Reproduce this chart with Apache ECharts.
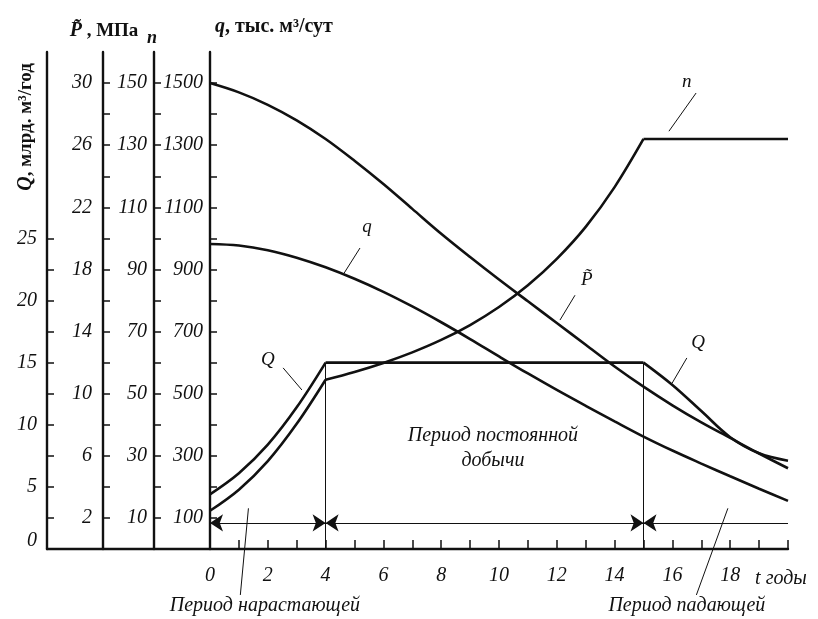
<!DOCTYPE html>
<html>
<head>
<meta charset="utf-8">
<script src="https://cdn.jsdelivr.net/npm/echarts@6/dist/echarts.min.js"></script>
<style>
  html, body { margin: 0; padding: 0; background: #fff; }
  #main { width: 818px; height: 619px; }
</style>
</head>
<body>
<div id="main"></div>
<script>
// годы разработки
const years = [0, 1, 2, 3, 4, 5, 6, 7, 8, 9, 10, 11, 12, 13, 14, 15, 16, 17, 18, 19, 20];
// Q, млрд. м3/год
const gasOutput = [4.4, 6.1, 8.4, 11.4, 15, 15, 15, 15, 15, 15, 15, 15, 15, 15, 15, 15, 13.2, 11.1, 9.0, 7.7, 7.1];
// P, МПа
const pressure = [30.0, 29.4, 28.6, 27.6, 26.4, 25.0, 23.5, 21.9, 20.3, 18.8, 17.35, 15.95, 14.55, 13.15, 11.75, 10.45, 9.25, 8.15, 7.15, 6.15, 5.2];
// n, число скважин
const wells = [12.3, 19.1, 28.3, 40.3, 54.5, 57, 59.9, 63.3, 67.3, 72.1, 77.9, 84.9, 93.4, 103.7, 116.5, 132, 132, 132, 132, 132, 132];
// q, тыс. м3/сут
const wellRate = [982, 977, 962, 938, 907, 870, 828, 781, 730, 676, 620, 565, 512, 461, 411, 362, 317, 275, 234, 194, 155];

// границы периодов (индексы лет)
const growEnd = 4;
const fallStart = 15;
const dimLevel = 84; // уровень размерной линии, по шкале q

// деления шкал
const xTicks = [1, 2, 3, 4, 5, 6, 7, 8, 9, 10, 11, 12, 13, 14, 15, 16, 17, 18, 19, 20];
const xLabels = [0, 2, 4, 6, 8, 10, 12, 14, 16, 18];
const gasTicks = [2.5, 5, 7.5, 10, 12.5, 15, 17.5, 20, 22.5, 25];
const gasLabels = [0, 5, 10, 15, 20, 25];
const presTicks = [2, 4, 6, 8, 10, 12, 14, 16, 18, 20, 22, 24, 26, 28, 30];
const presLabels = [2, 6, 10, 14, 18, 22, 26, 30];
const wellTicks = [10, 20, 30, 40, 50, 60, 70, 80, 90, 100, 110, 120, 130, 140, 150];
const wellLabels = [10, 30, 50, 70, 90, 110, 130, 150];
const rateTicks = [100, 200, 300, 400, 500, 600, 700, 800, 900, 1000, 1100, 1200, 1300, 1400, 1500];
const rateLabels = [100, 300, 500, 700, 900, 1100, 1300, 1500];

const serif = 'Liberation Serif, DejaVu Serif, serif';
const ink = '#111';

const pts = (vals, from, to) => years.slice(from, to + 1).map((t, i) => [t, vals[from + i]]);

const curve = (yIdx, data, smooth, extra) => Object.assign({
  type: 'line',
  xAxisIndex: 0,
  yAxisIndex: yIdx,
  data: data,
  smooth: smooth ? 0.35 : false,
  symbol: 'none',
  lineStyle: { color: ink, width: 2.6 },
  silent: true
}, extra || {});

const yAx = (offset, max, ticks, labels, margin) => ({
  type: 'value',
  position: 'left',
  offset: offset,
  min: 0,
  max: max,
  axisLine: { show: true, onZero: false, lineStyle: { color: ink, width: 2.4 } },
  axisTick: { show: true, inside: true, length: 7, customValues: ticks, lineStyle: { color: ink, width: 1.5 } },
  axisLabel: {
    customValues: labels, margin: margin,
    color: ink, fontFamily: serif, fontStyle: 'italic', fontSize: 20,
    // ноль на шкале Q приподнят над осью времени
    formatter: v => (v === 0 ? '{z|0}' : String(v)),
    rich: { z: { padding: [0, 0, 16, 0], fontFamily: serif, fontStyle: 'italic', fontSize: 20, color: ink } }
  },
  splitLine: { show: false }
});

const thin = { color: ink, width: 1, type: 'solid' };

const option = {
  backgroundColor: '#fff',
  animation: false,
  grid: { left: 47, right: 30, top: 52, bottom: 70 },
  xAxis: {
    type: 'value',
    min: -5.64,
    max: 20,
    axisLine: { onZero: false, lineStyle: { color: ink, width: 2.4 } },
    axisTick: { inside: true, length: 9, customValues: xTicks, lineStyle: { color: ink, width: 1.5 } },
    axisLabel: {
      customValues: xLabels, margin: 17,
      color: ink, fontFamily: serif, fontStyle: 'italic', fontSize: 20,
      formatter: v => String(v)
    },
    splitLine: { show: false }
  },
  yAxis: [
    yAx(0, 40, gasTicks, gasLabels, 10),
    yAx(-56, 32, presTicks, presLabels, 11),
    yAx(-107, 160, wellTicks, wellLabels, 7),
    yAx(-163, 1600, rateTicks, rateLabels, 7)
  ],
  series: [
    // Q
    curve(0, pts(gasOutput, 0, growEnd), true),
    curve(0, pts(gasOutput, growEnd, fallStart), false, {
      markLine: {
        silent: true, symbol: 'none', label: { show: false }, lineStyle: thin,
        data: [
          [{ coord: [years[growEnd], 0] }, { coord: [years[growEnd], gasOutput[growEnd]] }],
          [{ coord: [years[fallStart], 0] }, { coord: [years[fallStart], gasOutput[fallStart]] }]
        ]
      }
    }),
    curve(0, pts(gasOutput, fallStart, years.length - 1), true),
    // P
    curve(1, pts(pressure, 0, years.length - 1), true),
    // n
    curve(2, pts(wells, 0, growEnd), true),
    curve(2, pts(wells, growEnd, fallStart), true),
    curve(2, pts(wells, fallStart, years.length - 1), false),
    // q
    curve(3, pts(wellRate, 0, years.length - 1), true, {
      markLine: {
        silent: true, label: { show: false }, lineStyle: thin,
        symbol: 'arrow', symbolSize: 13,
        data: [
          [{ coord: [years[0], dimLevel] }, { coord: [years[growEnd], dimLevel] }],
          [{ coord: [years[growEnd], dimLevel] }, { coord: [years[fallStart], dimLevel] }],
          [{ coord: [years[fallStart], dimLevel] }, { coord: [years[years.length - 1], dimLevel], symbol: 'none' }]
        ]
      }
    })
  ]
};

const chart = echarts.init(document.getElementById('main'), null, { renderer: 'canvas' });
chart.setOption(option);

// подписи кривых и выноски, координаты в (год, q)
const notes = [
  { text: 'n', at: [16.5, 1503], line: [[16.82, 1468], [15.88, 1345]] },
  { text: 'q', at: [5.43, 1036], line: [[5.19, 969], [4.64, 888]] },
  { text: 'Q', at: [2.0, 608], line: [[2.53, 583], [3.18, 512]] },
  { text: 'P̃', at: [13.04, 866], line: [[12.63, 817], [12.11, 737]] },
  { text: 'Q', at: [16.89, 663], line: [[16.5, 615], [15.99, 534]] },
  { text: 'Период нарастающей', at: [1.9, -183], line: [[1.33, 131], [1.05, -148]], size: 20 },
  { text: 'Период падающей', at: [16.5, -183], line: [[17.92, 131], [16.83, -148]], size: 20 },
  { text: 'Период постоянной\nдобычи', at: [9.79, 324], size: 20 }
];

const px = (p) => chart.convertToPixel({ xAxisIndex: 0, yAxisIndex: 3 }, p);

const graphic = [];
notes.forEach(function (n) {
  const a = px(n.at);
  graphic.push({
    type: 'text', x: a[0], y: a[1], silent: true,
    style: {
      text: n.text, fill: ink, align: 'center', verticalAlign: 'middle',
      font: 'italic ' + (n.size || 19) + 'px ' + serif, lineHeight: 25
    }
  });
  if (n.line) {
    const p1 = px(n.line[0]);
    const p2 = px(n.line[1]);
    graphic.push({
      type: 'line', silent: true,
      shape: { x1: p1[0], y1: p1[1], x2: p2[0], y2: p2[1] },
      style: { stroke: ink, lineWidth: 1 }
    });
  }
});

// названия шкал
const italicRich = { i: { fontStyle: 'italic', fontWeight: 'bold', fontSize: 20, fontFamily: serif, fill: ink } };
graphic.push(
  {
    type: 'text', x: 26, y: 127, rotation: Math.PI / 2, silent: true,
    style: {
      text: '{i|Q}, млрд. м³/год', align: 'center', verticalAlign: 'middle',
      font: 'bold 19px ' + serif, fill: ink, rich: italicRich
    }
  },
  {
    type: 'text', x: 104, y: 31, silent: true,
    style: {
      text: '{i|P̃} , МПа', align: 'center', verticalAlign: 'middle',
      font: 'bold 19px ' + serif, fill: ink, rich: italicRich
    }
  },
  {
    type: 'text', x: 152, y: 38, silent: true,
    style: { text: 'n', align: 'center', verticalAlign: 'middle', font: 'italic bold 18px ' + serif, fill: ink }
  },
  {
    type: 'text', x: 215, y: 27, silent: true,
    style: {
      text: '{i|q}, тыс. м³/сут', align: 'left', verticalAlign: 'middle',
      font: 'bold 20px ' + serif, fill: ink, rich: italicRich
    }
  },
  {
    type: 'text', x: 781, y: 579, silent: true,
    style: { text: 't годы', align: 'center', verticalAlign: 'middle', font: 'italic 20px ' + serif, fill: ink }
  }
);

chart.setOption({ graphic: graphic });
</script>
</body>
</html>
